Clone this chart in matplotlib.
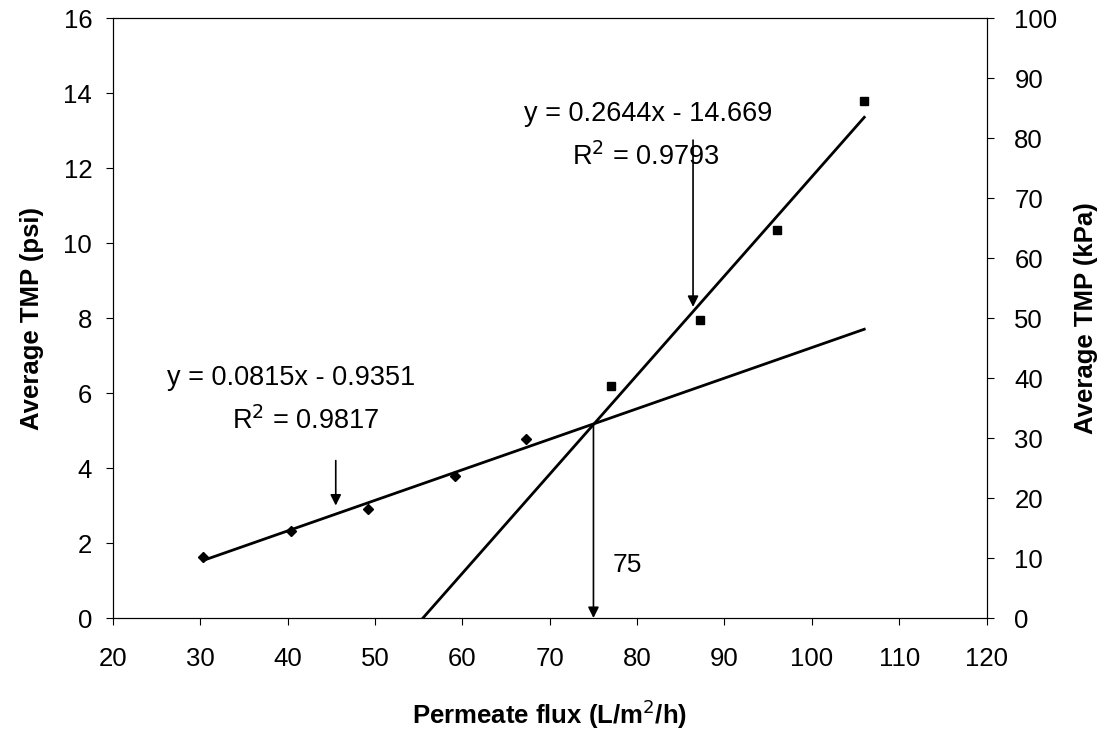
import matplotlib.pyplot as plt
import numpy as np

plt.rcParams.update({
    'font.family': ['Liberation Sans', 'DejaVu Sans'],
    'font.size': 18.5,
    'xtick.labelsize': 18.5,
    'ytick.labelsize': 18.5,
})

# measured points (flux L/m2/h, TMP psi)
flux_low = [30.3, 40.4, 49.2, 59.2, 67.3]
tmp_low = [1.62, 2.32, 2.92, 3.78, 4.78]
flux_high = [77.0, 87.2, 96.0, 106.0]
tmp_high = [6.18, 7.95, 10.35, 13.78]

# trendline coefficients as printed on the chart
slope_low, icpt_low = 0.0815, -0.9351
slope_high, icpt_high = 0.2644, -14.669
x_cross = 75

fig = plt.figure(figsize=(11.11, 7.30), dpi=100)
ax = fig.add_axes([0.1017, 0.1534, 0.7863, 0.8216])

ax.plot(flux_low, tmp_low, 'D', color='black', ms=5)
ax.plot(flux_high, tmp_high, 's', color='black', ms=6)

x1 = np.array([flux_low[0], flux_high[-1]])
ax.plot(x1, slope_low * x1 + icpt_low, color='black', lw=2)
x2 = np.array([-icpt_high / slope_high, flux_high[-1]])
ax.plot(x2, slope_high * x2 + icpt_high, color='black', lw=2)

arrow = dict(arrowstyle='-|>', color='black', lw=1.2, mutation_scale=16,
             shrinkA=0, shrinkB=0)
ax.annotate('', xy=(45.5, 3.0), xytext=(45.5, 4.2), arrowprops=arrow)
ax.annotate('', xy=(86.4, 8.3), xytext=(86.4, 12.75), arrowprops=arrow)
y_cross = slope_low * x_cross + icpt_low
ax.annotate('', xy=(x_cross, 0), xytext=(x_cross, y_cross), arrowprops=arrow)

ax.text(81.3, 13.45, 'y = 0.2644x - 14.669', ha='center', va='center', fontsize=19.5)
ax.text(81.0, 12.3, 'R$^2$ = 0.9793', ha='center', va='center', fontsize=19.5)
ax.text(40.4, 6.4, 'y = 0.0815x - 0.9351', ha='center', va='center', fontsize=19.5)
ax.text(42.0, 5.25, 'R$^2$ = 0.9817', ha='center', va='center', fontsize=19.5)
ax.text(78.9, 1.41, '75', ha='center', va='center', fontsize=19)

ax.set_xlim(20, 120)
ax.set_ylim(0, 16)
ax.set_xticks(range(20, 121, 10))
ax.set_yticks(range(0, 17, 2))
ax.tick_params(direction='out', length=5, pad=10)
ax.tick_params(axis='x', pad=16)

ax2 = ax.twinx()
ax2.set_ylim(0, 100)
ax2.set_yticks(range(0, 101, 10))
ax2.tick_params(direction='out', length=5, pad=15)

ax.set_xlabel('Permeate flux (L/m$^2$/h)', fontsize=18.5, fontweight='bold', labelpad=19)
ax.set_ylabel('Average TMP (psi)', fontsize=18.5, fontweight='bold', labelpad=14)
ax2.set_ylabel('Average TMP (kPa)', fontsize=18.5, fontweight='bold', labelpad=12)

plt.savefig('out.png', dpi=100)
